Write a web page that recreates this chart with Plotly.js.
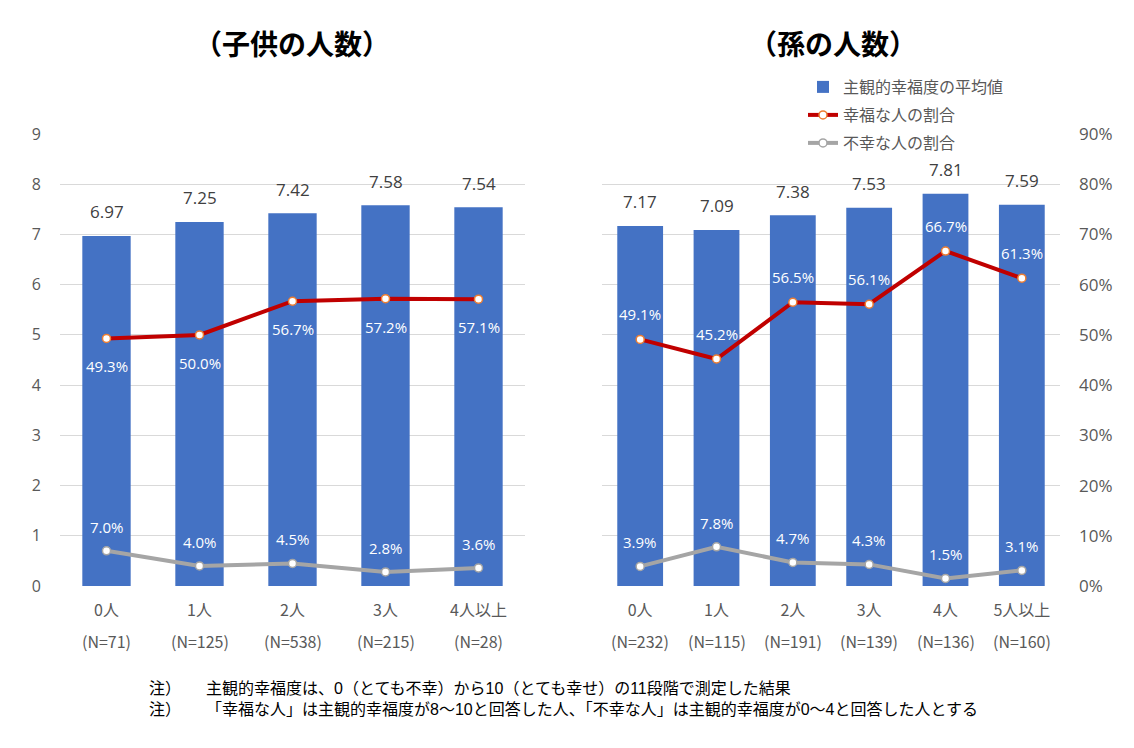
<!DOCTYPE html>
<html>
<head>
<meta charset="utf-8">
<script src="https://cdn.plot.ly/plotly-3.0.1.min.js"></script>
<style>html,body{margin:0;padding:0;background:#fff;}#chart{width:1134px;height:748px;}</style>
</head>
<body>
<div id="chart"></div>
<script>
// ---- data ----
const leftCats = ['0人','1人','2人','3人','4人以上'];
const leftN = ['(N=71)','(N=125)','(N=538)','(N=215)','(N=28)'];
const leftMean = [6.97, 7.25, 7.42, 7.58, 7.54];
const leftHappy = [49.3, 50.0, 56.7, 57.2, 57.1];
const leftUnhappy = [7.0, 4.0, 4.5, 2.8, 3.6];

const rightCats = ['0人','1人','2人','3人','4人','5人以上'];
const rightN = ['(N=232)','(N=115)','(N=191)','(N=139)','(N=136)','(N=160)'];
const rightMean = [7.17, 7.09, 7.38, 7.53, 7.81, 7.59];
const rightHappy = [49.1, 45.2, 56.5, 56.1, 66.7, 61.3];
const rightUnhappy = [3.9, 7.8, 4.7, 4.3, 1.5, 3.1];

const leftTitle = '（子供の人数）';
const rightTitle = '（孫の人数）';
const seriesNames = ['主観的幸福度の平均値', '幸福な人の割合', '不幸な人の割合'];
const noteMark = '注）';
const notes = [
  '主観的幸福度は、0（とても不幸）から10（とても幸せ）の11段階で測定した結果',
  '「幸福な人」は主観的幸福度が8～10と回答した人、「不幸な人」は主観的幸福度が0～4と回答した人とする'
];

// ---- styles ----
const FONT = '"Noto Sans CJK JP", "Noto Sans", sans-serif';
const NOTEFONT = '"Liberation Sans", "Noto Sans CJK JP", sans-serif';
const NUMFONT = '"Open Sans", "Noto Sans CJK JP", sans-serif';
const BLUE = '#4472C4', RED = '#C00000', GRAY = '#A5A5A5', GRID = '#D9D9D9', TXT = '#595959';
const W = 1134, H = 748;
const yDom = [162 / H, 614 / H];

function fmt2(v){ return v.toFixed(2); }
function pct(v){ return v.toFixed(1) + '%'; }

const traces = [
  {type:'bar', x:leftCats, y:leftMean, xaxis:'x', yaxis:'y', marker:{color:BLUE}, width:0.52,
   name:seriesNames[0], showlegend:false, hoverinfo:'skip'},
  {type:'scatter', mode:'lines+markers', x:leftCats, y:leftHappy, xaxis:'x', yaxis:'y2',
   line:{color:RED, width:4}, marker:{size:8, color:'#fff', line:{color:'#ED7D31', width:1.5}},
   name:seriesNames[1], showlegend:false},
  {type:'scatter', mode:'lines+markers', x:leftCats, y:leftUnhappy, xaxis:'x', yaxis:'y2',
   line:{color:GRAY, width:4}, marker:{size:8, color:'#fff', line:{color:GRAY, width:1.5}},
   name:seriesNames[2], showlegend:false},
  {type:'bar', x:rightCats, y:rightMean, xaxis:'x2', yaxis:'y3', marker:{color:BLUE}, width:0.6,
   name:seriesNames[0], showlegend:true, legend:'legend', hoverinfo:'skip'},
  {type:'scatter', mode:'lines+markers', x:rightCats, y:rightHappy, xaxis:'x2', yaxis:'y4',
   line:{color:RED, width:4}, marker:{size:8, color:'#fff', line:{color:'#ED7D31', width:1.5}},
   name:seriesNames[1], showlegend:true, legend:'legend2'},
  {type:'scatter', mode:'lines+markers', x:rightCats, y:rightUnhappy, xaxis:'x2', yaxis:'y4',
   line:{color:GRAY, width:4}, marker:{size:8, color:'#fff', line:{color:GRAY, width:1.5}},
   name:seriesNames[2], showlegend:true, legend:'legend3'}
];

const annotations = [];
function addLabels(cats, vals, xref, yref, text, yshift, color, size, family){
  cats.forEach((c,i)=>{
    annotations.push({x:c, y:vals[i], xref:xref, yref:yref, text:text(vals[i]), showarrow:false,
      yshift:yshift, xanchor:'center', yanchor:'middle', font:{family:family, size:size, color:color}});
  });
}
addLabels(leftCats, leftMean, 'x', 'y', fmt2, 24, '#404040', 17, NUMFONT);
addLabels(rightCats, rightMean, 'x2', 'y3', fmt2, 24, '#404040', 17, NUMFONT);
addLabels(leftCats, leftHappy, 'x', 'y2', pct, -28, '#fff', 15, NUMFONT);
addLabels(rightCats, rightHappy, 'x2', 'y4', pct, 25, '#fff', 15, NUMFONT);
addLabels(leftCats, leftUnhappy, 'x', 'y2', pct, 24, '#fff', 15, NUMFONT);
addLabels(rightCats, rightUnhappy, 'x2', 'y4', pct, 24, '#fff', 15, NUMFONT);

// N labels under the category ticks
leftN.forEach((t,i)=>annotations.push({x:leftCats[i], xref:'x', y:1-641/H, yref:'paper', text:t, showarrow:false,
  yanchor:'middle', font:{family:FONT, size:16, color:TXT}}));
rightN.forEach((t,i)=>annotations.push({x:rightCats[i], xref:'x2', y:1-641/H, yref:'paper', text:t, showarrow:false,
  yanchor:'middle', font:{family:FONT, size:16, color:TXT}}));

// titles
annotations.push({x:292/W, y:1-43/H, xref:'paper', yref:'paper', text:'<b>'+leftTitle+'</b>', showarrow:false,
  xanchor:'center', yanchor:'middle', font:{family:FONT, size:28, color:'#000'}});
annotations.push({x:833/W, y:1-43/H, xref:'paper', yref:'paper', text:'<b>'+rightTitle+'</b>', showarrow:false,
  xanchor:'center', yanchor:'middle', font:{family:FONT, size:28, color:'#000'}});

// notes
notes.forEach((t,i)=>{
  const yy = 1 - (688 + i*21)/H;
  annotations.push({x:148/W, y:yy, xref:'paper', yref:'paper', text:noteMark, showarrow:false,
    xanchor:'left', yanchor:'middle', borderpad:0, font:{family:NOTEFONT, size:16, color:'#000'}});
  annotations.push({x:205/W, y:yy, xref:'paper', yref:'paper', text:t, showarrow:false,
    xanchor:'left', yanchor:'middle', borderpad:0, font:{family:NOTEFONT, size:16, color:'#000'}});
});

const tickFont = {family:FONT, size:16, color:TXT};
function leg(yc){
  return {x:803/W, y:1-yc/H, xanchor:'left', yanchor:'middle', bgcolor:'rgba(0,0,0,0)',
    font:{family:FONT, size:16, color:TXT}};
}
const layout = {
  width:W, height:H, margin:{l:0, r:0, t:0, b:0},
  paper_bgcolor:'#fff', plot_bgcolor:'rgba(0,0,0,0)',
  showlegend:true,
  legend:leg(87), legend2:leg(115), legend3:leg(143),
  xaxis:{domain:[60/W, 525/W], anchor:'y', type:'category', showgrid:false, zeroline:false, showline:false,
    ticks:'', tickfont:tickFont, ticklabelstandoff:13},
  yaxis:{domain:yDom, anchor:'x', range:[0,9], dtick:1, showgrid:true, gridcolor:GRID, gridwidth:1,
    zeroline:false, showline:false, ticks:'', tickfont:{family:NUMFONT, size:16, color:TXT}, ticklabelstandoff:18},
  yaxis2:{overlaying:'y', anchor:'x', range:[0,90], visible:false, showgrid:false},
  xaxis2:{domain:[602/W, 1060/W], anchor:'y3', type:'category', showgrid:false, zeroline:false, showline:false,
    ticks:'', tickfont:tickFont, ticklabelstandoff:13},
  yaxis3:{domain:yDom, anchor:'x2', range:[0,9], visible:false, showgrid:false},
  yaxis4:{overlaying:'y3', anchor:'x2', side:'right', range:[0,90], dtick:10, ticksuffix:'%',
    showgrid:true, gridcolor:GRID, gridwidth:1, zeroline:false, showline:false, ticks:'',
    tickfont:{family:NUMFONT, size:17, color:TXT}, ticklabelstandoff:18},
  annotations:annotations
};

Plotly.newPlot('chart', traces, layout, {staticPlot:true, displayModeBar:false});
</script>
</body>
</html>
